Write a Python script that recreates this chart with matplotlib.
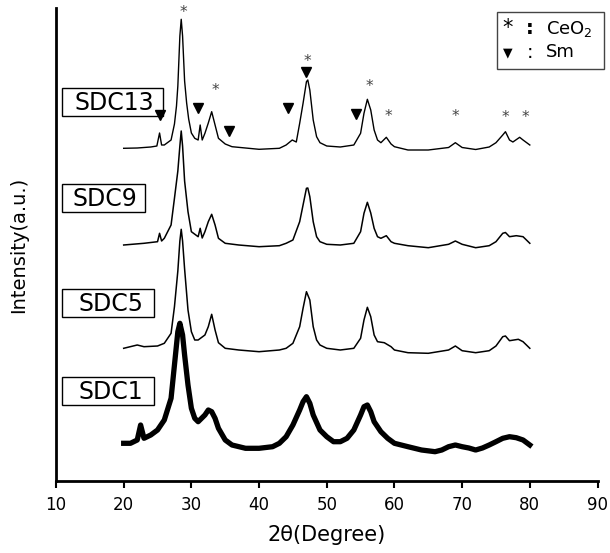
import matplotlib
matplotlib.use("Agg")
import matplotlib.pyplot as plt
from matplotlib.patches import Rectangle

plt.rcParams['font.family'] = ['DejaVu Sans']

# ---------------- data (2-theta, intensity a.u. incl. stacking offset) -------------
x_sdc13 = [20, 22, 24, 24.9, 25.3, 25.6, 26, 27, 27.5, 27.8, 28, 28.3, 28.5, 28.7, 29, 29.3, 29.6, 30,
           30.5, 31, 31.3, 31.6, 32, 32.5, 33, 33.5, 34, 35, 36, 38, 40, 43, 44, 44.9, 45.5, 46,
           46.5, 47, 47.2, 47.5, 48, 48.5, 49, 50, 52, 54, 55, 55.5, 56, 56.5, 57, 57.5, 58,
           58.8, 59.5, 60, 62, 65, 68, 69, 70, 72, 74, 75, 76, 76.4, 77, 77.5, 78.5, 79, 80]
y_sdc13 = [332.7, 333, 334, 335, 348, 336, 336, 341, 357, 375, 395, 445, 461.7, 445, 400, 378, 362, 348,
           342.7, 341, 356, 341, 347.7, 358, 369.3, 356, 342.7, 337, 334.3, 333, 331.7, 332.7, 336, 341, 339, 357.7,
           377.7, 399.3, 401, 391, 361, 344.3, 338.3, 335, 334, 336, 347.7, 367.7, 381.7, 371, 351, 341, 338.3,
           343.7, 337, 334.3, 331, 331, 333.5, 338.3, 333.5, 331.5, 334, 338.3, 346, 349.3, 341, 339, 343.7, 341, 336]

x_sdc9 = [20, 23, 25, 25.3, 25.6, 26, 27, 27.5, 28, 28.3, 28.5, 28.7, 29, 29.5, 30, 31, 31.3, 31.6, 32,
          32.5, 33, 33.5, 34, 35, 37, 40, 43, 44, 45, 46, 46.5, 47, 47.2, 47.5, 48, 48.5, 49, 50, 52,
          54, 55, 55.5, 56, 56.5, 57, 57.5, 58, 58.8, 59.5, 60, 62, 65, 68, 69, 70, 72, 74, 75, 76,
          76.4, 77, 78, 79, 80]
y_sdc9 = [236, 237.7, 239.3, 247.7, 240, 242.7, 256, 282.7, 310, 335, 350, 335, 300, 269.3, 249.3, 244.3, 252.7, 243, 249.3,
          259.3, 266.7, 256, 242.7, 237.7, 236, 234.3, 235.3, 237.7, 241, 259.3, 276, 292.7, 293, 284.3, 259.3, 244.3, 239.3, 236.7, 236,
          237.7, 249.3, 267.7, 278.7, 268, 252.7, 244.3, 242.7, 245.3, 239.3, 237.7, 235.3, 233.3, 236.7, 240, 236.7, 233.3, 235.3, 239.3, 247.7,
          248.5, 244.3, 245.3, 244.3, 237.7]

x_sdc5 = [20, 22, 23, 25, 26, 27, 27.5, 28, 28.3, 28.5, 28.7, 29, 29.5, 30, 30.5, 31, 32, 32.5, 33, 33.5,
          34, 35, 37, 40, 43, 44, 45, 46, 46.5, 47, 47.5, 48, 48.5, 49, 50, 52, 54, 55, 55.5, 56, 56.5,
          57, 57.5, 58.5, 59.5, 60, 62, 65, 68, 69, 70, 72, 74, 75, 76, 76.4, 77, 78.3, 79, 80]
y_sdc5 = [132.7, 136, 134.3, 135, 137.7, 147.7, 174.3, 210, 240, 251.7, 240, 212, 171, 149.3, 141, 141, 146, 154.3, 166.7, 151,
          138.3, 132.7, 131, 129.3, 131, 132.7, 137.7, 154.3, 172.7, 189.3, 181, 154.3, 141, 136, 132.7, 131, 132.7, 142.7, 161, 173.7, 164.3,
          146, 139.3, 138.3, 134.3, 131, 128.3, 127.7, 131, 135, 130.3, 128.3, 130.3, 135, 144.3, 145, 140.3, 141.7, 139.3, 132.7]

x_sdc1 = [20, 21, 22, 22.5, 23, 24, 25, 26, 27, 27.5, 28, 28.3, 28.7, 29, 29.5, 30, 30.5, 31, 32, 32.5,
          33, 33.5, 34, 35, 36, 38, 40, 42, 43, 44, 45, 46, 46.5, 47, 47.5, 48, 49, 50, 51, 52, 53, 54,
          55, 55.5, 56, 56.5, 57, 58, 59, 60, 62, 64, 66, 67, 68, 69, 70, 71, 72, 73, 74, 75, 76, 77,
          78, 79, 80]
y_sdc1 = [37.7, 37.7, 41, 56, 42.7, 46, 51, 61, 82.7, 116, 149.3, 157.7, 146, 126, 96, 72.7, 62.7, 59.3, 66, 71,
          69.3, 62.7, 52.7, 41, 36, 32.7, 32.7, 34.3, 37.7, 44.3, 56, 71, 79.3, 84.3, 77.7, 66, 51, 44.3, 39.3, 39.3, 42.7, 51,
          66, 74.3, 76, 69.3, 59.3, 49.3, 42.7, 37.7, 34.3, 31, 29.3, 31, 34.3, 36, 34.3, 33, 31, 33, 36, 39.3, 42.7, 44.3,
          43.3, 41, 36]

sample_names = ["SDC13", "SDC9", "SDC5", "SDC1"]

# peak annotation marks on SDC13
ceo2_x = [28.8, 33.5, 47.2, 56.3, 59.05, 69.06, 76.46, 79.3]
ceo2_y = [468.3, 390, 419.3, 395, 365, 364.3, 363.7, 363.7]
sm_x = [25.37, 30.95, 35.5, 44.3, 46.9, 54.3]
sm_y = [366, 372.7, 350, 373.3, 409, 366.7]

xticks = [10, 20, 30, 40, 50, 60, 70, 80, 90]

# ---------------- figure ----------------
W, H = 610, 553
fig = plt.figure(figsize=(W / 100, H / 100), dpi=100)

def fx(px):
    return px / W

def fy(py):
    return 1 - py / H

ax = fig.add_axes([fx(56), fy(481), fx(597.5) - fx(56), fy(8) - fy(481)])

ax.plot(x_sdc13, y_sdc13, color='black', lw=1.0)
ax.plot(x_sdc9, y_sdc9, color='black', lw=1.1)
ax.plot(x_sdc5, y_sdc5, color='black', lw=1.1)
ax.plot(x_sdc1, y_sdc1, color='black', lw=3.8, solid_joinstyle='round')

for xs, ys in zip(ceo2_x, ceo2_y):
    ax.text(xs, ys, '*', ha='center', va='center', fontsize=11, color='#444444', clip_on=False)
ax.plot(sm_x, sm_y, linestyle='none', marker='v', color='black', markersize=6.5, clip_on=False)

ax.set_xlim(10, 90)
ax.set_ylim(0, 473)
ax.set_xticks(xticks)
ax.set_xticklabels([str(t) for t in xticks], fontsize=12)
ax.set_yticks([])
ax.tick_params(axis='x', direction='out', length=5, width=1.5, pad=6)
for s in ['top', 'right']:
    ax.spines[s].set_visible(False)
ax.spines['left'].set_linewidth(2)
ax.spines['bottom'].set_linewidth(2)
ax.set_xlabel('2θ(Degree)', fontsize=15, labelpad=8)
ax.set_ylabel('Intensity(a.u.)', fontsize=14, labelpad=20)

# sample label boxes (pixel layout)
boxes = [(62, 88, 163, 116, 114.5), (62, 184, 145, 212, 105), (62, 289, 154, 317, 111), (62, 377, 154, 405, 110.5)]
for name, (x0, y0, x1, y1, tcx) in zip(sample_names, boxes):
    fig.patches.append(Rectangle((fx(x0), fy(y1)), fx(x1) - fx(x0), fy(y0) - fy(y1),
                                 transform=fig.transFigure, fill=False, edgecolor='black', lw=1.0))
    fig.text(fx(tcx), fy((y0 + y1) / 2 + 1), name, ha='center', va='center', fontsize=17)

# symbol key box
fig.patches.append(Rectangle((fx(497), fy(69)), fx(604) - fx(497), fy(12) - fy(69),
                             transform=fig.transFigure, fill=False, edgecolor='#444444', lw=1.0))
fig.text(fx(508), fy(28), '*', ha='center', va='center', fontsize=15)
fig.text(fx(530), fy(29), ':', ha='center', va='center', fontsize=14, fontweight='bold')
fig.text(fx(546), fy(29), 'CeO$_2$', ha='left', va='center', fontsize=13)
fig.text(fx(508), fy(53), '▼', ha='center', va='center', fontsize=9)
fig.text(fx(530), fy(52), ':', ha='center', va='center', fontsize=14)
fig.text(fx(546), fy(52), 'Sm', ha='left', va='center', fontsize=13)

fig.savefig('out.png', dpi=100)
